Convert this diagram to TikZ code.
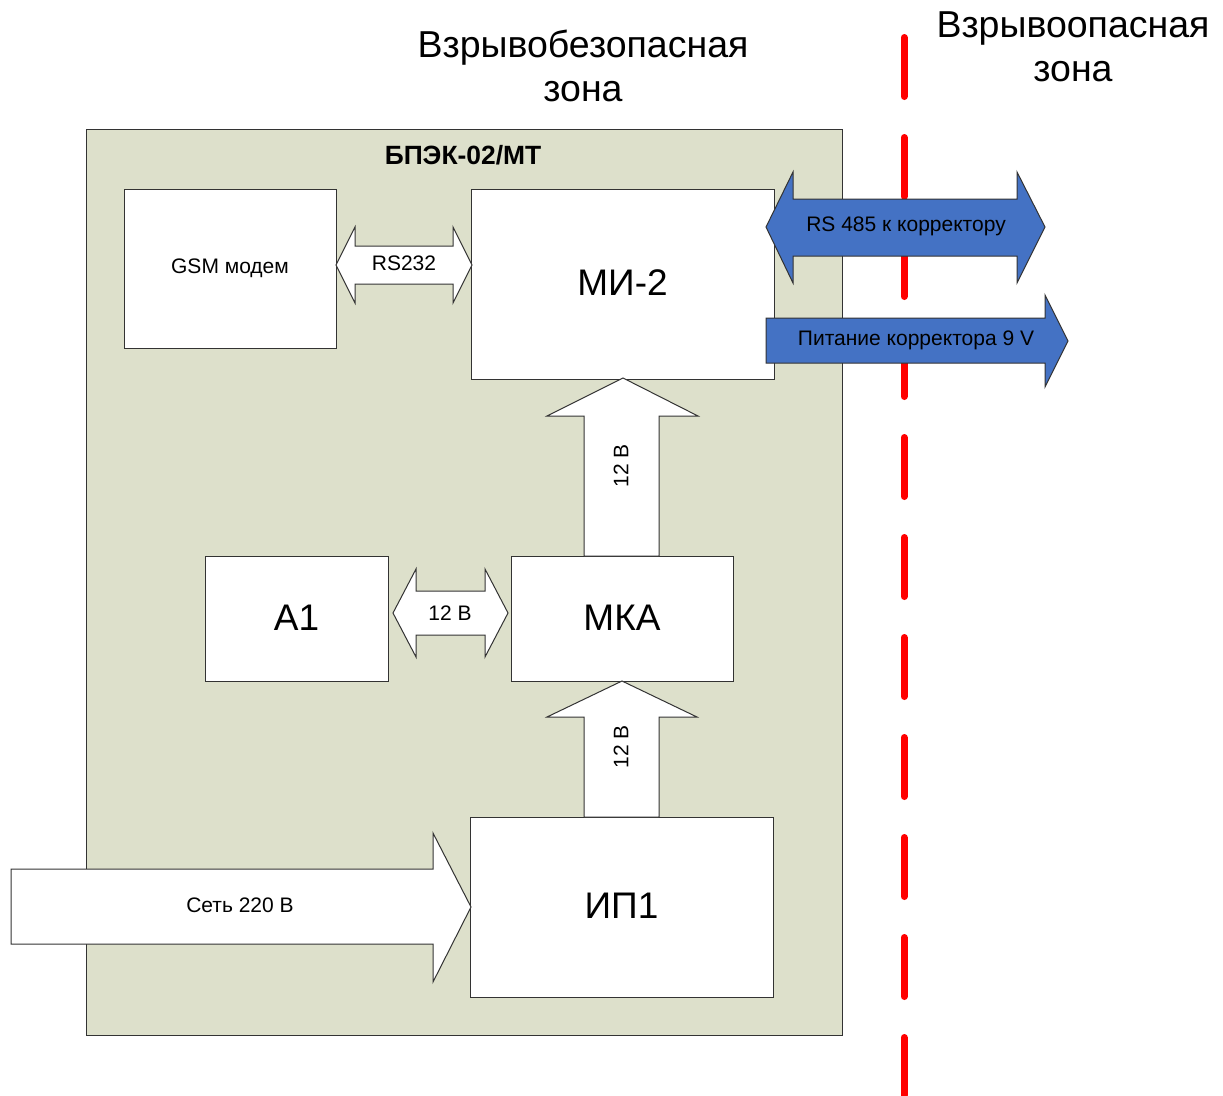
\documentclass[tikz,border=0pt]{standalone}
\usepackage{fontspec}
\setmainfont{Liberation Sans}
\definecolor{panel}{RGB}{221,224,203}
\definecolor{busblue}{RGB}{68,114,196}
\begin{document}
\begin{tikzpicture}[x=1pt,y=-1pt,every node/.style={inner sep=0pt, outer sep=0pt, font=\fontsize{21}{25}\selectfont},
    box/.style={draw=black!80, fill=white, line width=1pt},
    big/.style={font=\fontsize{37}{44}\selectfont},
    flow/.style={draw=black!80, fill=white, line width=1pt},
    bus/.style={draw=black!80, fill=busblue, line width=1pt}]
    \useasboundingbox (0,0) rectangle (1223,1095);
    \draw[fill=panel, draw=black!80, line width=1pt] (86,129) rectangle (842,1035);
    \node[font=\bfseries\fontsize{26.4}{30}\selectfont] (title) at (463,155) {БПЭК-02/МТ};
    \node[align=center, font=\fontsize{37.5}{44}\selectfont] (safe) at (583,66) {Взрывобезопасная\\зона};
    \node[align=center, font=\fontsize{37.5}{44}\selectfont] (hazard) at (1073,47) {Взрывоопасная\\зона};
    \node[box, minimum width=212, minimum height=159] (gsm) at (230,268.5) {GSM модем};
    \node[box, big, minimum width=303, minimum height=190] (mi) at (622.5,284) {\raisebox{3pt}{МИ-2}};
    \node[box, big, minimum width=183, minimum height=125] (a1) at (296.5,618.5) {\raisebox{2pt}{А1}};
    \node[box, big, minimum width=222, minimum height=125] (mka) at (622,618.5) {\raisebox{2pt}{МКА}};
    \node[box, big, minimum width=303, minimum height=180] (ip) at (621.5,907) {\raisebox{2pt}{ИП1}};
    \draw[red, line width=7pt, line cap=round, dash pattern=on 59pt off 41pt] (904,37.5) -- (904,1095);
    \draw[flow] (336,265) -- (355,227) -- (355,246) -- (453,246) -- (453,227) -- (472,265) -- (453,303) -- (453,284) -- (355,284) -- (355,303) -- cycle;
    \node (rs232) at (404,263) {RS232};
    \draw[flow] (393,613) -- (416,569) -- (416,591) -- (485,591) -- (485,569) -- (508,613) -- (485,657) -- (485,635) -- (416,635) -- (416,657) -- cycle;
    \node (a1mka) at (450,613) {12 В};
    \draw[flow] (623,378) -- (698,416) -- (659,416) -- (659,556) -- (584,556) -- (584,416) -- (547,416) -- cycle;
    \node[rotate=90] (mkami) at (621,466) {12 В};
    \draw[flow] (622,681) -- (697,717) -- (659,717) -- (659,817) -- (584,817) -- (584,717) -- (547,717) -- cycle;
    \node[rotate=90] (ipmka) at (621,747) {12 В};
    \draw[flow] (11,869) -- (433,869) -- (433,833) -- (471,907) -- (433,982) -- (433,944) -- (11,944) -- cycle;
    \node (mains) at (240,905) {Сеть 220 В};
    \draw[bus] (766,227) -- (793,172) -- (793,199) -- (1017,199) -- (1017,172) -- (1045,227) -- (1017,283) -- (1017,256) -- (793,256) -- (793,283) -- cycle;
    \node (rs485) at (906,226) {RS 485 к корректору};
    \draw[bus] (766,318) -- (1045,318) -- (1045,295) -- (1068,341) -- (1045,387) -- (1045,363) -- (766,363) -- cycle;
    \node (power) at (916,340) {Питание корректора 9 V};
\end{tikzpicture}
\end{document}
